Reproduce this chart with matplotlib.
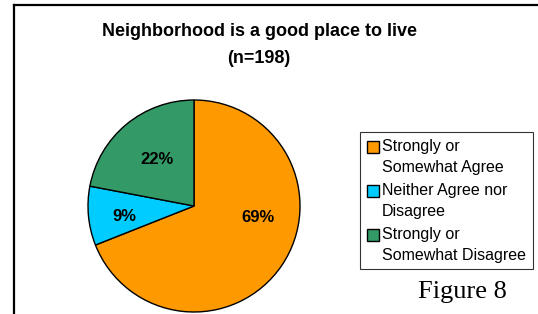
import matplotlib
matplotlib.use("Agg")
import matplotlib.pyplot as plt
from matplotlib.lines import Line2D
from matplotlib.patches import Patch, Rectangle
from matplotlib.legend_handler import HandlerPatch

plt.rcParams["font.family"] = ["Liberation Sans", "DejaVu Sans"]

# ---------- DATA ----------
categories = [
    "Strongly or\nSomewhat Agree",
    "Neither Agree nor\nDisagree",
    "Strongly or\nSomewhat Disagree",
]
shares = [69, 9, 22]
pct_labels = ["69%", "9%", "22%"]
colors = ["#FF9900", "#00CCFF", "#339966"]
title = "Neighborhood is a good place to live\n(n=198)"
caption = "Figure 8"

W, H = 538, 314
fig = plt.figure(figsize=(W / 100, H / 100), dpi=100)
fig.patch.set_facecolor("white")

# page frame (top and left edges only)
fig.add_artist(Line2D([14 / W, 1.0], [1 - 5 / H, 1 - 5 / H], color="black", lw=1.6))
fig.add_artist(Line2D([14 / W, 14 / W], [0.0, 1 - 5 / H], color="black", lw=1.6))

# ---------- PIE ----------
ax = fig.add_axes([88 / W, 2 / H, 212 / W, 212 / H])
wedges, _ = ax.pie(
    shares,
    colors=colors,
    startangle=90,
    counterclock=False,
    wedgeprops={"edgecolor": "black", "linewidth": 1.0},
)
ax.set_xlim(-1.0, 1.0)
ax.set_ylim(-1.0, 1.0)

# label placement (fraction of radius), Excel "best fit" style
label_pos = [(0.60, -0.11), (-0.66, -0.10), (-0.35, 0.44)]
for txt, (lx, ly) in zip(pct_labels, label_pos):
    ax.text(lx, ly, txt, ha="center", va="center", fontsize=12, fontweight="bold")

# ---------- TITLE ----------
fig.text(259 / W, 1 - 45 / H, title, ha="center", va="center",
         fontsize=13, fontweight="bold", linespacing=1.75)


# legend key sits next to the first line of a two-line label
def top_aligned_key(legend, orig_handle, xdescent, ydescent, width, height, fontsize):
    return Rectangle((-xdescent, -ydescent + 0.65 * fontsize), width, height)


# ---------- LEGEND ----------
handles = [Patch(facecolor=c, edgecolor="black", linewidth=1.0) for c in colors]
leg = fig.legend(
    handles,
    categories,
    loc="upper left",
    bbox_to_anchor=(360 / W, 1 - 132 / H),
    frameon=True,
    fancybox=False,
    edgecolor="black",
    fontsize=11.5,
    handlelength=0.75,
    handleheight=0.75,
    handletextpad=0.2,
    labelspacing=0.5,
    borderpad=0.42,
    borderaxespad=0.0,
    handler_map={Patch: HandlerPatch(patch_func=top_aligned_key)},
)
for t in leg.get_texts():
    t.set_linespacing(1.5)
leg.get_frame().set_linewidth(0.8)

# ---------- CAPTION ----------
fig.text(462 / W, 1 - 292 / H, caption, ha="center", va="center",
         fontsize=19, family=["Liberation Serif", "DejaVu Serif"])

fig.savefig("out.png", dpi=100)
